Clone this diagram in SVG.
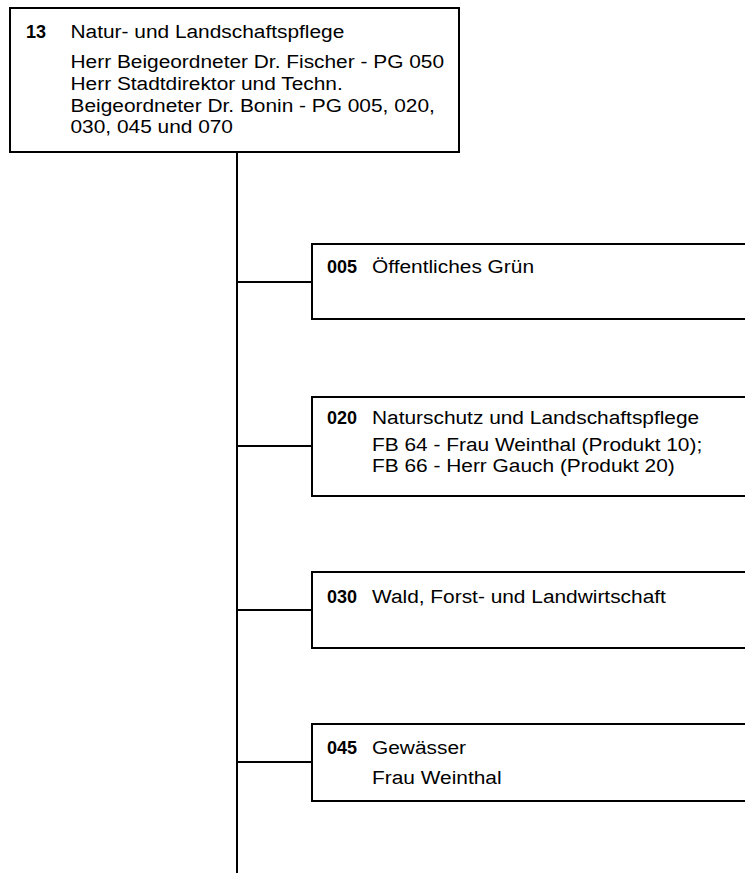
<svg xmlns="http://www.w3.org/2000/svg" width="745" height="873" viewBox="0 0 745 873">
  <style>
    .box { fill: #ffffff; stroke: #000000; stroke-width: 2; }
    .wire { fill: none; stroke: #000000; stroke-width: 2; }
    text { font-family: "Liberation Sans", Arial, sans-serif; font-size: 18px; fill: #000000; }
    .num { font-weight: bold; }
  </style>
  <rect width="745" height="873" fill="#ffffff"/>

  <g id="connectors">
    <line class="wire" x1="237" y1="152" x2="237" y2="873"/>
    <line class="wire" x1="237" y1="282" x2="312" y2="282"/>
    <line class="wire" x1="237" y1="446" x2="312" y2="446"/>
    <line class="wire" x1="237" y1="610" x2="312" y2="610"/>
    <line class="wire" x1="237" y1="762" x2="312" y2="762"/>
  </g>

  <!-- regular labels use a slightly widened face: scale(1.16 1) -->
  <g id="node-13">
    <rect class="box" x="10" y="8" width="449" height="144"/>
    <text class="num" x="26" y="38">13</text>
    <text transform="translate(70.5 38) scale(1.16 1)">Natur- und Landschaftspflege</text>
    <text transform="translate(70.5 68) scale(1.16 1)">Herr Beigeordneter Dr. Fischer - PG 050</text>
    <text transform="translate(70.5 90) scale(1.16 1)">Herr Stadtdirektor und Techn.</text>
    <text transform="translate(70.5 112) scale(1.16 1)">Beigeordneter Dr. Bonin - PG 005, 020,</text>
    <text transform="translate(70.5 133) scale(1.16 1)">030, 045 und 070</text>
  </g>

  <g id="node-005">
    <rect class="box" x="312" y="244" width="440" height="75"/>
    <text class="num" x="327" y="273">005</text>
    <text transform="translate(372 273) scale(1.16 1)">Öffentliches Grün</text>
  </g>

  <g id="node-020">
    <rect class="box" x="312" y="397" width="440" height="99"/>
    <text class="num" x="327" y="424">020</text>
    <text transform="translate(372 424) scale(1.16 1)">Naturschutz und Landschaftspflege</text>
    <text transform="translate(372 451) scale(1.16 1)">FB 64 - Frau Weinthal (Produkt 10);</text>
    <text transform="translate(372 472) scale(1.16 1)">FB 66 - Herr Gauch (Produkt 20)</text>
  </g>

  <g id="node-030">
    <rect class="box" x="312" y="572" width="440" height="76"/>
    <text class="num" x="327" y="603">030</text>
    <text transform="translate(372 603) scale(1.16 1)">Wald, Forst- und Landwirtschaft</text>
  </g>

  <g id="node-045">
    <rect class="box" x="312" y="724" width="440" height="77"/>
    <text class="num" x="327" y="754">045</text>
    <text transform="translate(372 754) scale(1.16 1)">Gewässer</text>
    <text transform="translate(372 784) scale(1.16 1)">Frau Weinthal</text>
  </g>
</svg>
